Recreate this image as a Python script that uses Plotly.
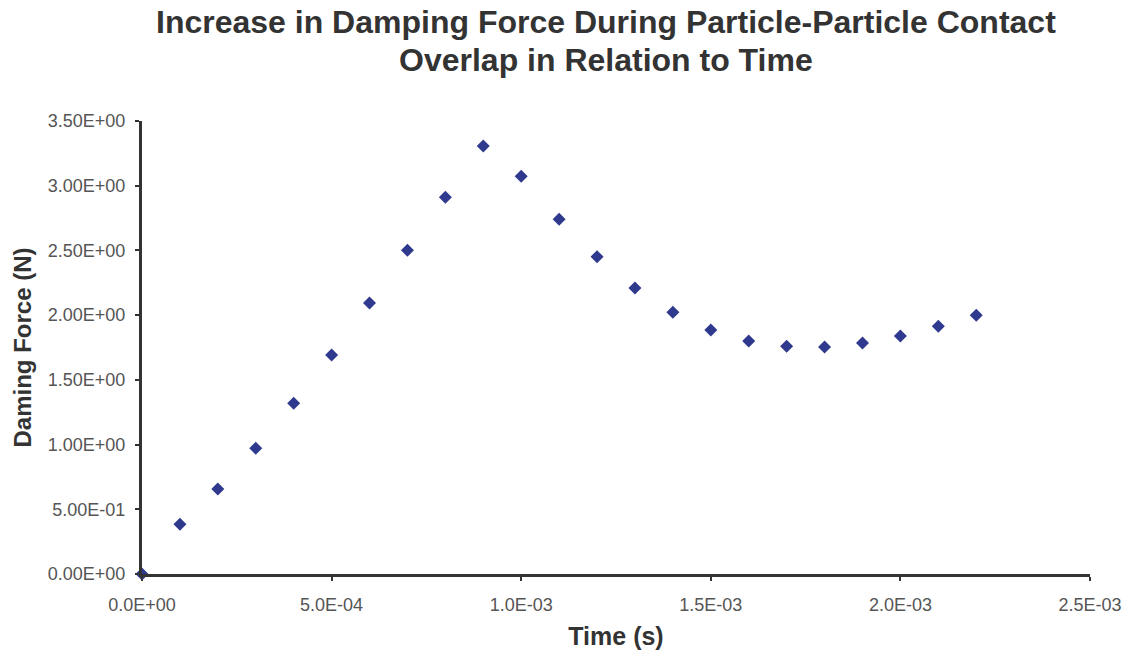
import plotly.graph_objects as go

# Time steps (s) and damping force (N) during particle-particle contact overlap
time_s = [0.0, 1e-4, 2e-4, 3e-4, 4e-4, 5e-4, 6e-4, 7e-4, 8e-4, 9e-4,
          1.0e-3, 1.1e-3, 1.2e-3, 1.3e-3, 1.4e-3, 1.5e-3, 1.6e-3, 1.7e-3,
          1.8e-3, 1.9e-3, 2.0e-3, 2.1e-3, 2.2e-3]
damping_force = [0.0, 0.384, 0.657, 0.971, 1.319, 1.692, 2.094, 2.501, 2.910, 3.307,
                 3.073, 2.740, 2.452, 2.210, 2.022, 1.885, 1.800, 1.759,
                 1.754, 1.785, 1.839, 1.914, 1.999]

x_ticks = [0.0, 5e-4, 1.0e-3, 1.5e-3, 2.0e-3, 2.5e-3]
x_tick_labels = ["0.0E+00", "5.0E-04", "1.0E-03", "1.5E-03", "2.0E-03", "2.5E-03"]
y_ticks = [0.0, 0.5, 1.0, 1.5, 2.0, 2.5, 3.0, 3.5]
y_tick_labels = ["0.00E+00", "5.00E-01", "1.00E+00", "1.50E+00", "2.00E+00",
                 "2.50E+00", "3.00E+00", "3.50E+00"]

title_lines = ["Increase in Damping Force During Particle-Particle Contact",
               "Overlap in Relation to Time"]

font_family = "Liberation Sans, Arial, sans-serif"

fig = go.Figure()
fig.add_trace(go.Scatter(
    x=time_s, y=damping_force, mode="markers",
    marker=dict(symbol="diamond", size=10, color="#2F3A8F",
                line=dict(width=0)),
    cliponaxis=False, showlegend=False,
))

# Two-line chart title, placed line by line
for i, line in enumerate(title_lines):
    fig.add_annotation(
        text=f"<b>{line}</b>", xref="paper", yref="paper",
        x=0.489, y=1 + (99 - 38 * i) / 453, xanchor="center", yanchor="middle",
        showarrow=False, font=dict(size=32, color="#333333", family=font_family),
    )

fig.update_layout(
    width=1129, height=658,
    margin=dict(l=142, r=39, t=121, b=84),
    paper_bgcolor="white", plot_bgcolor="white",
    font=dict(family=font_family, color="#444444"),
    xaxis=dict(
        range=[0, 2.5e-3], tickvals=x_ticks, ticktext=x_tick_labels,
        showgrid=False, zeroline=False, automargin=False,
        showline=True, linecolor="#333333", linewidth=3,
        ticks="outside", ticklen=4, tickwidth=2, tickcolor="#333333",
        ticklabelstandoff=8,
        tickfont=dict(size=18, color="#555555"),
        title=dict(text="<b>Time (s)</b>", standoff=14,
                   font=dict(size=25, color="#333333")),
    ),
    yaxis=dict(
        range=[0, 3.5], tickvals=y_ticks, ticktext=y_tick_labels,
        showgrid=False, zeroline=False, automargin=False,
        showline=True, linecolor="#333333", linewidth=3,
        ticks="outside", ticklen=4, tickwidth=2, tickcolor="#333333",
        ticklabelstandoff=6,
        tickfont=dict(size=18, color="#555555"),
        title=dict(text="<b>Daming Force (N)</b>", standoff=10,
                   font=dict(size=24, color="#333333")),
    ),
)

fig.write_html("out.html")
